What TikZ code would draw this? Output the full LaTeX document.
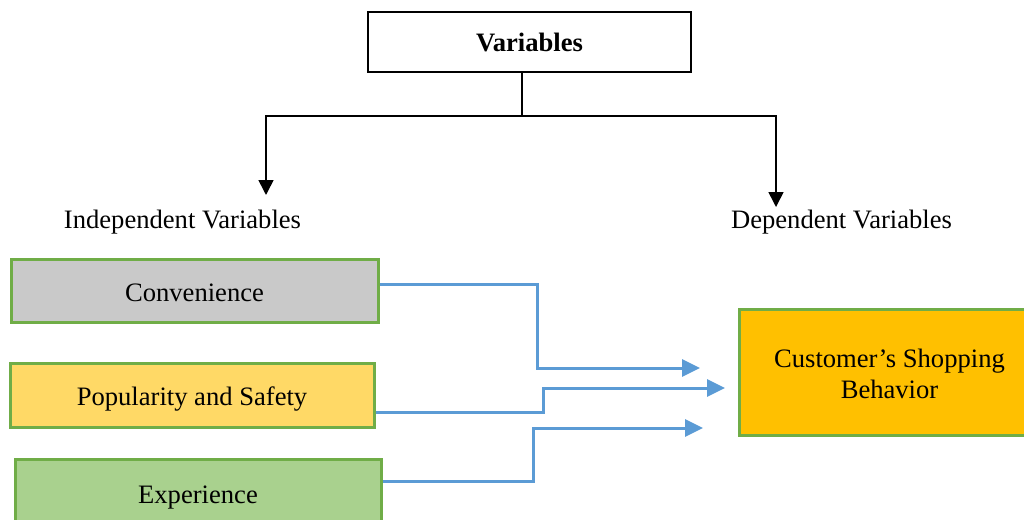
\documentclass[tikz,border=0pt]{standalone}
\usepackage{fontspec}
\setmainfont{Liberation Serif}
\usetikzlibrary{arrows.meta}
\definecolor{boxgreen}{HTML}{70AD47}
\definecolor{flowblue}{HTML}{5B9BD5}
\definecolor{convgray}{HTML}{C9C9C9}
\definecolor{popyellow}{HTML}{FFD966}
\definecolor{expgreen}{HTML}{A9D18E}
\definecolor{custorange}{HTML}{FFC000}
\begin{document}
\begin{tikzpicture}[x=1pt,y=-1pt,
 txt/.style={font=\fontsize{26.6}{31}\selectfont, inner sep=0pt, align=center},
 varbox/.style={txt, draw=black, line width=1.5pt, minimum width=323pt, minimum height=60pt},
 factor/.style={txt, draw=boxgreen, line width=3pt},
 oneline/.style={text height=25pt, text depth=4pt},
 tree/.style={black, line width=1.6pt},
 treearrow/.style={tree, -{Triangle[length=15pt,width=15pt]}},
 flow/.style={flowblue, line width=3pt, -{Triangle[length=18pt,width=17pt]}}]
\useasboundingbox (0,0) rectangle (1024,519);
\clip (0,0) rectangle (1024,519);
% top
\node[varbox, font=\fontsize{26.6}{31}\selectfont\bfseries, text height=21pt, text depth=2pt] (var) at (529.5,42) {Variables};
\node[txt, anchor=base] (indep) at (182.5,228) {Independent Variables};
\node[txt, anchor=base] (dep) at (841.5,228) {Dependent Variables};
\coordinate (jn) at (522,116);
\coordinate (a1) at (266,195);
\coordinate (a2) at (776,207);
\draw[tree] ([xshift=-7.5pt]var.south) -- (jn);
\draw[treearrow] (jn) -| (a1);
\draw[treearrow] (jn) -| (a2);
% factors
\node[factor, oneline, fill=convgray, minimum width=367pt, minimum height=63pt] (conv) at (194.5,290.5) {Convenience};
\node[factor, oneline, fill=popyellow, minimum width=364pt, minimum height=64pt] (pop) at (192,395) {Popularity and Safety};
\node[factor, oneline, fill=expgreen, minimum width=366pt, minimum height=68pt] (exp) at (198,493) {Experience};
\node[factor, fill=custorange, minimum width=301pt, minimum height=126pt, text height=53pt, text depth=0.3pt] (cust) at (889.5,372) {Customer’s Shopping\\Behavior};
% flows
\coordinate (t1) at (700,368);
\coordinate (t2) at (725,388);
\coordinate (t3) at (703,428);
\draw[flow] ([yshift=6.5pt]conv.east) -| (537,368) -- (t1);
\draw[flow] ([yshift=-17pt]pop.east) -| (543,388) -- (t2);
\draw[flow] ([yshift=12pt]exp.east) -| (533,428) -- (t3);
\end{tikzpicture}
\end{document}
